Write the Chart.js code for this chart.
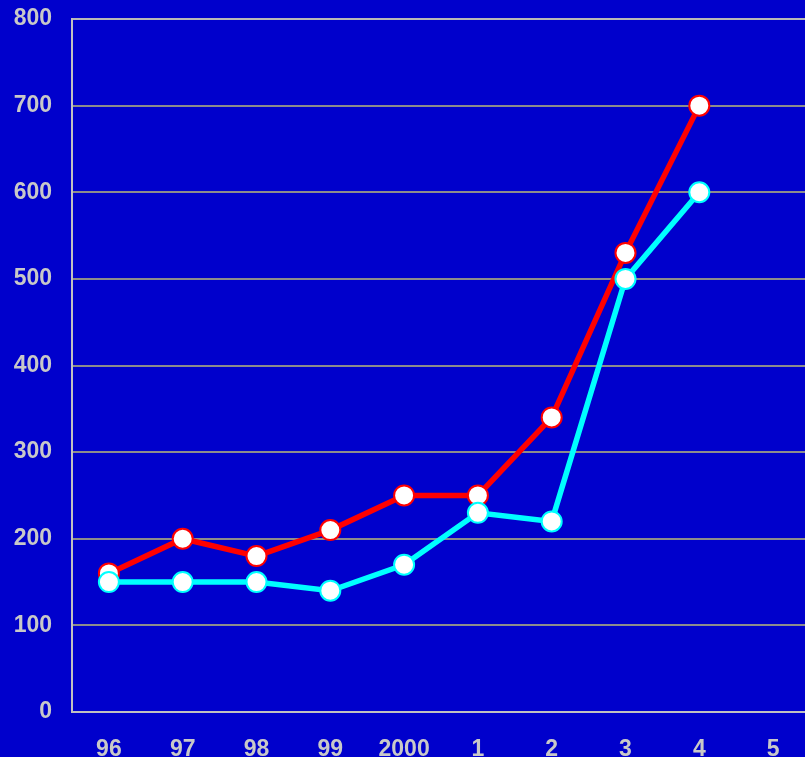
<!DOCTYPE html>
<html>
<head>
<meta charset="utf-8">
<script src="https://cdn.jsdelivr.net/npm/chart.js@4/dist/chart.umd.min.js"></script>
<style>
html,body{margin:0;padding:0;background:#0000CC;overflow:hidden;width:805px;height:757px;}
#wrap{position:absolute;left:0;top:0;width:810px;height:760px;}
</style>
</head>
<body>
<div id="wrap"><canvas id="c" width="810" height="760"></canvas></div>
<script>
const categories = ["96","97","98","99","2000","1","2","3","4","5"];
const redValues  = [160,200,180,210,250,250,340,530,700,null];
const cyanValues = [150,150,150,140,170,230,220,500,600,null];
const yTicks = [0,100,200,300,400,500,600,700,800];

const labelColor = '#C8C8C8';
const fontSpec = {family: '"Liberation Sans", Arial, sans-serif', size: 23, weight: 'bold'};

new Chart(document.getElementById('c'), {
  type: 'line',
  data: {
    labels: categories,
    datasets: [
      {
        label: 'cyan',
        data: cyanValues,
        borderColor: '#00FFFF',
        borderWidth: 5.5,
        pointRadius: 10,
        pointBorderWidth: 2,
        pointBackgroundColor: '#FFFFFF',
        pointBorderColor: '#00FFFF',
        tension: 0,
        spanGaps: false
      },
      {
        label: 'red',
        data: redValues,
        borderColor: '#FF0000',
        borderWidth: 5.5,
        pointRadius: 10,
        pointBorderWidth: 2,
        pointBackgroundColor: '#FFFFFF',
        pointBorderColor: '#FF0000',
        tension: 0,
        spanGaps: false
      }
    ]
  },
  options: {
    responsive: false,
    animation: false,
    events: [],
    layout: {autoPadding: false, padding: 0},
    plugins: {legend: {display: false}, tooltip: {enabled: false}},
    scales: {
      x: {
        offset: true,
        grid: {display: false, drawTicks: false},
        border: {display: true, color: '#C0C0C0', width: 2},
        ticks: {color: labelColor, font: fontSpec, padding: 24, maxRotation: 0, autoSkip: false},
        afterFit: (s) => { s.height = 48; s.paddingLeft = 0; s.paddingRight = 0; }
      },
      y: {
        min: 0, max: 800,
        afterBuildTicks: (s) => { s.ticks = yTicks.map(v => ({value: v})); },
        grid: {
          drawTicks: false,
          color: (ctx) => (ctx.tick && ctx.tick.value === 800) ? '#B8B8B8' : '#8C8C8C',
          lineWidth: 2
        },
        border: {display: true, color: '#C0C0C0', width: 2},
        ticks: {color: labelColor, font: fontSpec, padding: 20},
        afterFit: (s) => { s.width = 72; s.paddingTop = 19; s.paddingBottom = 0; }
      }
    }
  }
});
</script>
</body>
</html>
